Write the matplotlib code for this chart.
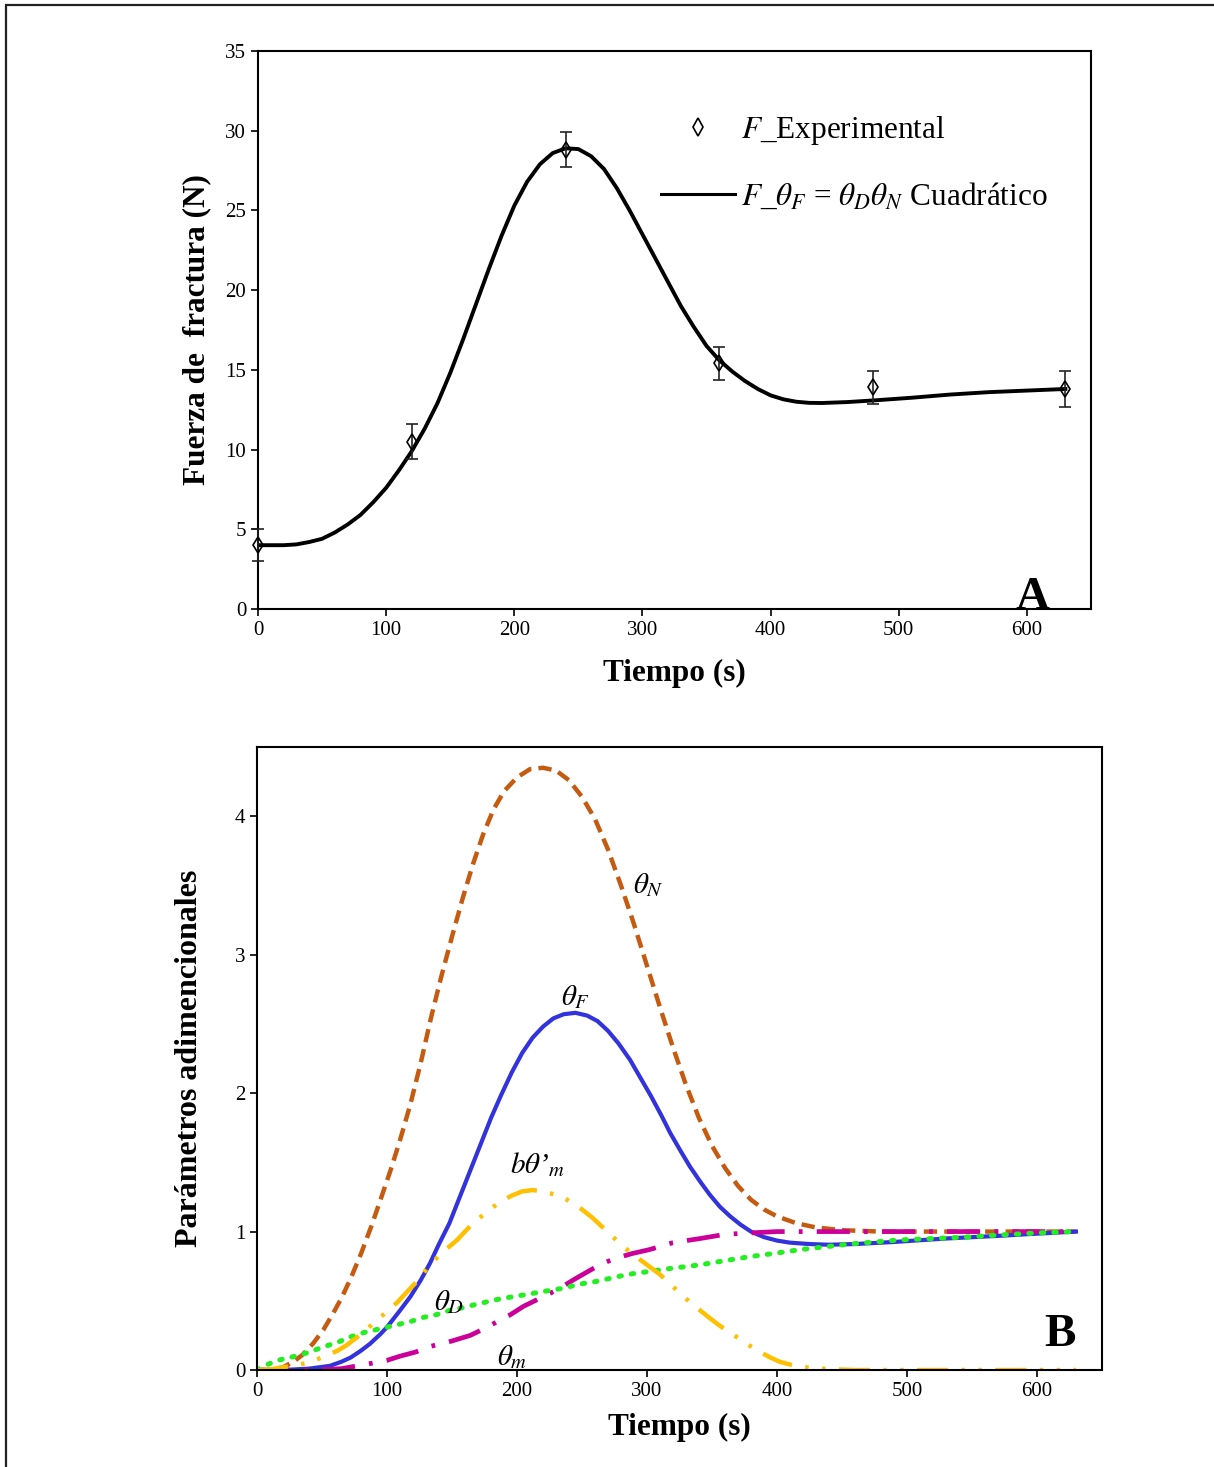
import matplotlib
matplotlib.use("Agg")
import matplotlib.pyplot as plt
from matplotlib.lines import Line2D
from matplotlib.patches import Rectangle

plt.rcParams["font.family"] = ["Liberation Serif", "DejaVu Serif"]
plt.rcParams["mathtext.fontset"] = "stix"

# --- Panel A: fracture force ---
t_exp = [0, 120, 240, 360, 480, 630]
f_exp = [4.0, 10.5, 28.8, 15.4, 13.9, 13.8]
f_err = [1.0, 1.1, 1.1, 1.05, 1.05, 1.1]

t_fit = [0, 10, 20, 30, 40, 50, 60, 70, 80, 90, 100, 110, 120, 130, 140,
         150, 160, 170, 180, 190, 200, 210, 220, 230, 240, 250, 260, 270,
         280, 290, 300, 310, 320, 330, 340, 350, 360, 370, 380, 390, 400,
         410, 420, 430, 440, 460, 480, 510, 540, 570, 600, 630]
f_fit = [4.0, 4.0, 4.0, 4.05, 4.2, 4.4, 4.8, 5.3, 5.9, 6.7, 7.6, 8.7, 9.9,
         11.3, 12.9, 14.8, 16.9, 19.1, 21.3, 23.4, 25.3, 26.8, 27.9, 28.6,
         28.9, 28.85, 28.4, 27.6, 26.4, 25.0, 23.5, 22.0, 20.5, 19.0, 17.7,
         16.5, 15.6, 14.9, 14.3, 13.8, 13.4, 13.15, 13.0, 12.93, 12.92, 12.98,
         13.08, 13.25, 13.45, 13.6, 13.7, 13.8]

# --- Panel B: dimensionless parameters ---
t_N = [0, 10, 20, 28, 35, 43, 51, 58, 65, 72, 80, 88, 95, 103, 110, 118,
       126, 134, 142, 150, 158, 166, 174, 182, 190, 200, 210, 220, 230, 240,
       250, 260, 270, 280, 290, 300, 310, 320, 330, 340, 350, 360, 370, 380,
       390, 400, 415, 430, 450, 480, 630]
theta_N = [0.0, 0.0, 0.02, 0.06, 0.11, 0.19, 0.29, 0.40, 0.52, 0.66, 0.84,
           1.04, 1.23, 1.45, 1.66, 1.92, 2.22, 2.55, 2.85, 3.13, 3.40, 3.65,
           3.87, 4.05, 4.18, 4.28, 4.34, 4.35, 4.33, 4.26, 4.14, 3.98, 3.76,
           3.50, 3.22, 2.92, 2.62, 2.33, 2.06, 1.82, 1.62, 1.46, 1.33, 1.23,
           1.16, 1.11, 1.06, 1.03, 1.01, 1.0, 1.0]

t_F = [0, 20, 40, 56, 65, 72, 80, 87, 95, 100, 110, 118, 126, 133, 140, 148,
       156, 164, 172, 180, 188, 196, 204, 212, 220, 228, 236, 245, 254, 262,
       270, 278, 287, 295, 303, 311, 318, 326, 333, 341, 348, 356, 364, 372,
       380, 390, 400, 410, 425, 440, 460, 490, 530, 572, 600, 630]
theta_F = [0.0, 0.0, 0.01, 0.03, 0.06, 0.09, 0.14, 0.19, 0.26, 0.31, 0.43,
           0.53, 0.65, 0.77, 0.91, 1.06, 1.25, 1.44, 1.63, 1.82, 1.99, 2.15,
           2.29, 2.40, 2.48, 2.54, 2.57, 2.58, 2.56, 2.52, 2.45, 2.36, 2.24,
           2.11, 1.98, 1.84, 1.71, 1.58, 1.47, 1.36, 1.27, 1.18, 1.11, 1.05,
           1.0, 0.96, 0.935, 0.92, 0.91, 0.905, 0.91, 0.925, 0.95, 0.97,
           0.985, 1.0]

t_D = [0, 8, 16, 25, 34, 43, 52, 62, 72, 82, 91, 100, 109, 118, 128, 138,
       148, 158, 171, 185, 197, 210, 222, 235, 248, 261, 273, 285, 300, 315,
       328, 341, 360, 380, 400, 418, 437, 456, 475, 495, 520, 545, 570, 600,
       630]
theta_D = [0.0, 0.04, 0.07, 0.09, 0.11, 0.14, 0.17, 0.20, 0.24, 0.27, 0.29,
           0.31, 0.33, 0.35, 0.38, 0.40, 0.43, 0.45, 0.48, 0.51, 0.53, 0.55,
           0.57, 0.59, 0.62, 0.64, 0.665, 0.69, 0.71, 0.73, 0.745, 0.76, 0.79,
           0.82, 0.845, 0.87, 0.89, 0.91, 0.925, 0.94, 0.95, 0.96, 0.975,
           0.99, 1.0]

t_m = [0, 40, 55, 65, 77, 89, 100, 110, 122, 133, 142, 150, 157, 164, 175,
       185, 195, 205, 218, 231, 245, 258, 266, 274, 288, 302, 320, 341, 360,
       379, 400, 450, 630]
theta_m = [0.0, 0.0, 0.005, 0.01, 0.03, 0.05, 0.07, 0.10, 0.13, 0.17, 0.19,
           0.21, 0.23, 0.25, 0.30, 0.35, 0.40, 0.46, 0.52, 0.58, 0.66, 0.73,
           0.77, 0.80, 0.84, 0.87, 0.92, 0.95, 0.98, 0.99, 1.0, 1.0, 1.0]

t_bm = [0, 10, 20, 30, 38, 47, 55, 62, 69, 76, 84, 92, 100, 108, 115, 122,
        128, 134, 144, 154, 165, 179, 188, 196, 204, 212, 220, 228, 235, 242,
        250, 258, 266, 274, 282, 290, 300, 310, 318, 326, 333, 341, 349, 356,
        364, 372, 380, 387, 395, 402, 410, 418, 426, 433, 445, 460, 630]
b_theta_m = [0.0, 0.005, 0.02, 0.035, 0.05, 0.08, 0.11, 0.14, 0.18, 0.23,
             0.29, 0.36, 0.42, 0.49, 0.56, 0.63, 0.70, 0.77, 0.86, 0.94, 1.05,
             1.16, 1.22, 1.26, 1.29, 1.30, 1.29, 1.27, 1.25, 1.21, 1.16, 1.10,
             1.03, 0.96, 0.89, 0.83, 0.76, 0.69, 0.62, 0.55, 0.49, 0.43, 0.37,
             0.32, 0.27, 0.22, 0.17, 0.13, 0.09, 0.06, 0.04, 0.025, 0.015,
             0.01, 0.005, 0.0, 0.0]

fig = plt.figure(figsize=(12.14, 14.67), dpi=100)

# outer frame (only top and left edges show in the original crop)
fig.patches.append(Rectangle((6 / 1214, -0.05), 1.2, 1.05 - 5 / 1467,
                             transform=fig.transFigure, fill=False,
                             edgecolor="#222222", linewidth=1.6))

tick_fs = 15
label_fs = 22.5

# ---------- A ----------
axA = fig.add_axes([0.2125, 0.5849, 0.6862, 0.3803])
axA.plot(t_fit, f_fit, color="black", lw=2.8, zorder=2)
axA.errorbar(t_exp, f_exp, yerr=f_err, fmt="none", ecolor="#222222",
             elinewidth=1.2, capsize=4.5, capthick=1.2, zorder=3,
             clip_on=False)
axA.plot(t_exp, f_exp, linestyle="none", marker="d", markersize=8,
         mfc="none", mec="black", mew=1.2, zorder=4, clip_on=False)
axA.set_xlim(0, 650)
axA.set_ylim(0, 35)
axA.set_xticks([0, 100, 200, 300, 400, 500, 600])
axA.set_yticks(range(0, 36, 5))
axA.tick_params(labelsize=tick_fs, direction="out", length=5, width=1.2)
axA.set_xlabel("Tiempo (s)", fontsize=label_fs, fontweight="bold", labelpad=14)
axA.set_ylabel("Fuerza de  fractura (N)", fontsize=label_fs,
               fontweight="bold", labelpad=10)
for s in axA.spines.values():
    s.set_linewidth(1.5)
axA.text(604, 0, "A", fontsize=34, fontweight="bold", ha="center",
         va="baseline")

handles = [
    Line2D([], [], linestyle="none", marker="d", markersize=9, mfc="none",
           mec="black", mew=1.2),
    Line2D([], [], color="black", lw=2.2),
]
labels = [r"$F$_Experimental",
          r"$F$_$\theta_F$ = $\theta_D\theta_N$ Cuadrático"]
axA.legend(handles, labels, loc="upper left", bbox_to_anchor=(0.484, 0.887),
           frameon=False, fontsize=22.5, handlelength=2.35, handletextpad=0.2,
           labelspacing=1.1, borderpad=0, borderaxespad=0)

# ---------- B ----------
axB = fig.add_axes([0.2117, 0.0661, 0.6960, 0.4247])
axB.plot(t_N, theta_N, color="#C55A11", lw=3.2, dashes=(3.0, 1.6))
axB.plot(t_F, theta_F, color="#3333DD", lw=3.0)
axB.plot(t_m, theta_m, color="#CC0099", lw=3.4, dashes=(7, 3, 0.8, 3))
axB.plot(t_D, theta_D, color="#22EE22", lw=3.6, dashes=(0.5, 2.0),
         dash_capstyle="round")
axB.plot(t_bm, b_theta_m, color="#FFC000", lw=3.2,
         dashes=(7, 3, 0.8, 3, 0.8, 3))
axB.set_xlim(0, 650)
axB.set_ylim(0, 4.5)
axB.set_xticks([0, 100, 200, 300, 400, 500, 600])
axB.set_yticks([0, 1, 2, 3, 4])
axB.tick_params(labelsize=tick_fs, direction="out", length=5, width=1.2)
axB.set_xlabel("Tiempo (s)", fontsize=label_fs, fontweight="bold", labelpad=9)
axB.set_ylabel("Parámetros adimencionales", fontsize=23,
               fontweight="bold", labelpad=22)
for s in axB.spines.values():
    s.set_linewidth(1.5)

lab_fs = 21
axB.text(301, 3.50, r"$\theta_N$", fontsize=lab_fs, ha="center", va="center")
axB.text(245, 2.69, r"$\theta_F$", fontsize=lab_fs, ha="center", va="center")
axB.text(216, 1.48, r"$b\theta$’$_m$", fontsize=lab_fs, ha="center",
         va="center", style="italic")
axB.text(148, 0.49, r"$\theta_D$", fontsize=lab_fs, ha="center", va="center")
axB.text(196, 0.09, r"$\theta_m$", fontsize=lab_fs, ha="center", va="center")
axB.text(618, 0.17, "B", fontsize=34, fontweight="bold", ha="center",
         va="baseline")

fig.savefig("out.png", dpi=100)
